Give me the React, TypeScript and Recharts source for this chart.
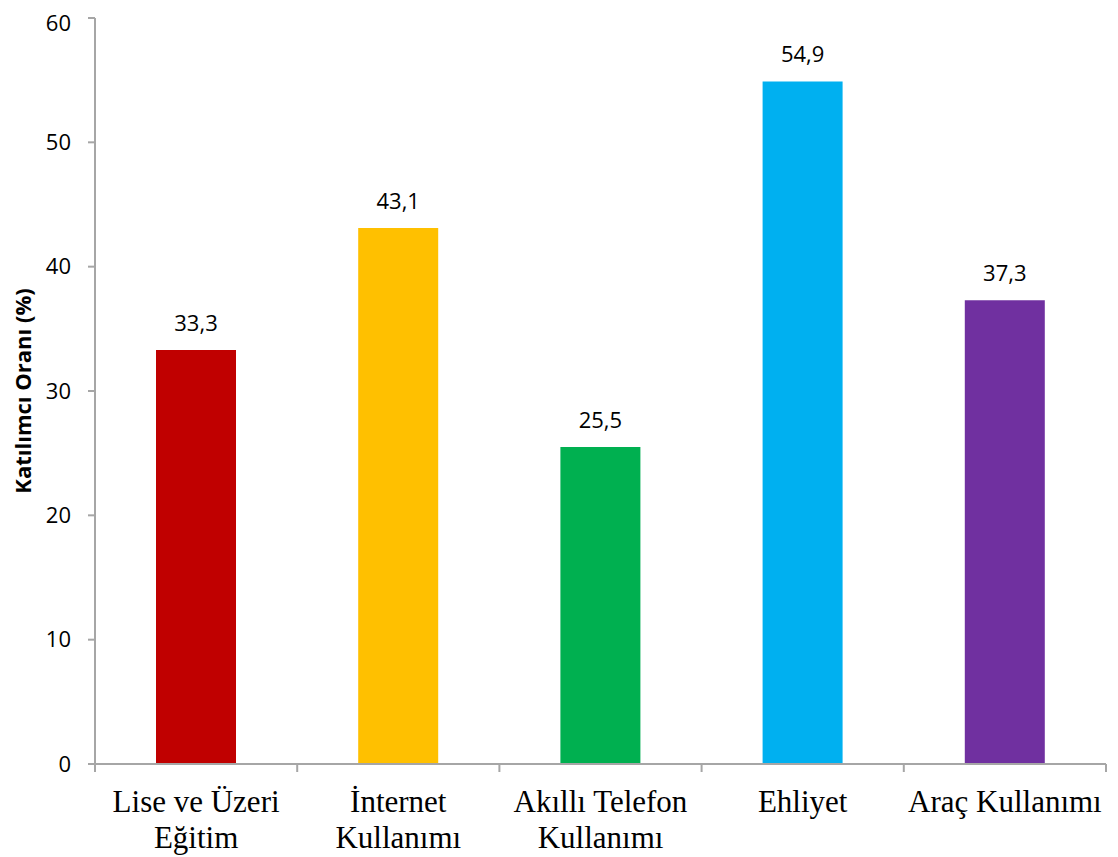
import { BarChart, Bar, XAxis, YAxis, Cell, LabelList } from 'recharts'

const categories = ['Lise ve Üzeri\nEğitim', 'İnternet\nKullanımı', 'Akıllı Telefon\nKullanımı', 'Ehliyet', 'Araç Kullanımı']
const values = [33.3, 43.1, 25.5, 54.9, 37.3]
const barColors = ['#C00000', '#FFC000', '#00B050', '#00B0F0', '#7030A0']
const yTicks = [0, 10, 20, 30, 40, 50, 60]

const data = categories.map((name, i) => ({ name, value: values[i], color: barColors[i] }))

const AXIS_COLOR = '#A6A6A6'
const SANS = '"Open Sans", "Noto Sans", sans-serif'

// label plus tick marks on the category boundaries (half a band either side)
function CategoryTick({ x, y, payload, index, visibleTicksCount }: any) {
  const lines = String(payload.value).split('\n')
  const half = payload.offset || 0
  const last = index === visibleTicksCount - 1
  return (
    <g>
      <line x1={x - half} x2={x - half} y1={y} y2={y + 8} stroke={AXIS_COLOR} strokeWidth={2} />
      {last && <line x1={x + half} x2={x + half} y1={y} y2={y + 8} stroke={AXIS_COLOR} strokeWidth={2} />}
      <text
        x={x}
        y={y + 48}
        textAnchor="middle"
        fontFamily='"Liberation Serif", "Times New Roman", serif'
        fontSize={31}
        fill="#000"
      >
        {lines.map((line, i) => (
          <tspan key={i} x={x} dy={i === 0 ? 0 : 36}>
            {line}
          </tspan>
        ))}
      </text>
    </g>
  )
}

function YTitle({ viewBox }: any) {
  const cx = viewBox.x + 14
  const cy = viewBox.y + viewBox.height / 2
  return (
    <text
      x={cx}
      y={cy}
      transform={`rotate(-90, ${cx}, ${cy})`}
      textAnchor="middle"
      dominantBaseline="central"
      fontFamily={SANS}
      fontWeight="bold"
      fontSize={22}
      fill="#000"
    >
      Katılımcı Oranı (%)
    </text>
  )
}

export default function App() {
  return (
    <BarChart
      width={1102}
      height={849}
      data={data}
      margin={{ top: 10, right: 4, left: 0, bottom: 0 }}
    >
      <XAxis
        dataKey="name"
        height={93}
        interval={0}
        tickSize={0}
        tickMargin={0}
        tick={<CategoryTick />}
        tickLine={false}
        axisLine={{ stroke: AXIS_COLOR, strokeWidth: 2 }}
      />
      <YAxis
        width={87}
        domain={[0, 60]}
        ticks={yTicks}
        tickSize={7}
        tickMargin={17}
        tick={{ fontFamily: SANS, fontSize: 22, fill: '#000' }}
        axisLine={{ stroke: AXIS_COLOR, strokeWidth: 2 }}
        tickLine={{ stroke: AXIS_COLOR, strokeWidth: 2 }}
        label={{ content: <YTitle /> } as any}
      />
      <Bar dataKey="value" barSize={80} isAnimationActive={false}>
        {data.map((d, i) => (
          <Cell key={i} fill={d.color} />
        ))}
        <LabelList
          dataKey="value"
          position="top"
          offset={19}
          formatter={(v: any) => String(v).replace('.', ',')}
          style={{ fontFamily: SANS, fontSize: 22, fill: '#000' }}
        />
      </Bar>
    </BarChart>
  )
}
